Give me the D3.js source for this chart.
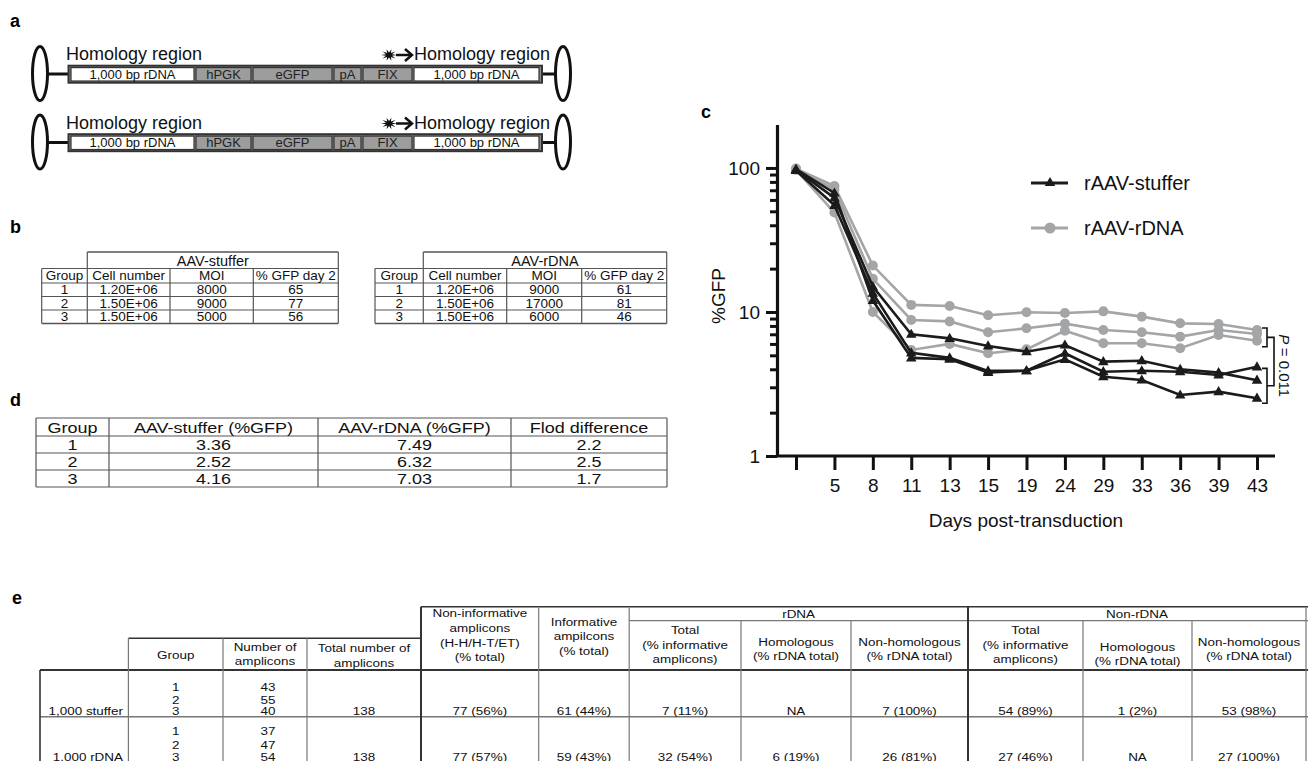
<!DOCTYPE html>
<head>
    <meta charset="utf-8">
    <script src="https://d3js.org/d3.v7.min.js"></script>
    <style>
        body { margin: 0; background: #fff; }
        svg { font-family: "Liberation Sans", Arial, sans-serif; }
    </style>
</head>

<body>
    <svg width="1308" height="761"></svg>

    <script>
        // ---------- data ----------
        // panel c: %GFP over days post-transduction (first tick unlabeled)
        const days = ["2", "5", "8", "11", "13", "15", "19", "24", "29", "33", "36", "39", "43"]
        const dayLabels = ["", "5", "8", "11", "13", "15", "19", "24", "29", "33", "36", "39", "43"]
        const stuffer1 = [97, 62, 15, 7.0, 6.56, 5.81, 5.3, 5.9, 4.52, 4.59, 4.0, 3.79, 3.36]
        const stuffer2 = [96, 55, 13.5, 5.2, 4.8, 3.9, 3.91, 5.17, 3.85, 3.91, 3.85, 3.65, 4.16]
        const stuffer3 = [98, 67, 12, 4.8, 4.7, 3.8, 3.91, 4.69, 3.55, 3.37, 2.65, 2.8, 2.52]
        const rdna1 = [99, 75, 21, 11.2, 11.0, 9.5, 9.95, 9.84, 10.1, 9.28, 8.34, 8.26, 7.49]
        const rdna2 = [98, 71, 17, 8.8, 8.6, 7.23, 7.7, 8.3, 7.5, 7.23, 6.74, 7.5, 7.03]
        const rdna3 = [97, 49, 10, 5.45, 6.0, 5.17, 5.5, 7.42, 6.06, 6.06, 5.6, 6.92, 6.32]
        const yTicks = [1, 10, 100]
        const yMinorTicks = [2, 3, 4, 5, 6, 7, 8, 9, 20, 30, 40, 50, 60, 70, 80, 90]
        const legendNames = ["rAAV-stuffer", "rAAV-rDNA"]
        const pText = "= 0.011"

        // panel a: construct
        const segNames = ["1,000 bp rDNA", "hPGK", "eGFP", "pA", "FIX", "1,000 bp rDNA"]
        const segGray = [false, true, true, true, true, false]

        // panel b
        const bHeadL = "AAV-stuffer", bHeadR = "AAV-rDNA"
        const bCols = ["Group", "Cell number", "MOI", "% GFP day 2"]
        const bStuffer = [["1", "1.20E+06", "8000", "65"], ["2", "1.50E+06", "9000", "77"], ["3", "1.50E+06", "5000", "56"]]
        const bRdna = [["1", "1.20E+06", "9000", "61"], ["2", "1.50E+06", "17000", "81"], ["3", "1.50E+06", "6000", "46"]]

        // panel d
        const dCols = ["Group", "AAV-stuffer (%GFP)", "AAV-rDNA (%GFP)", "Flod difference"]
        const dRows = [["1", "3.36", "7.49", "2.2"], ["2", "2.52", "6.32", "2.5"], ["3", "4.16", "7.03", "1.7"]]

        // panel e
        const eHead = [["Group"], ["Number of", "amplicons"], ["Total number of", "amplicons"],
            ["Non-informative", "amplicons", "(H-H/H-T/ET)", "(% total)"], ["Informative", "ampilcons", "(% total)"],
            ["Total", "(% informative", "amplicons)"], ["Homologous", "(% rDNA total)"], ["Non-homologous", "(% rDNA total)"],
            ["Total", "(% informative", "amplicons)"], ["Homologous", "(% rDNA total)"], ["Non-homologous", "(% rDNA total)"]]
        const eGroupHead = ["rDNA", "Non-rDNA"]
        const eRowNames = ["1,000 stuffer", "1,000 rDNA"]
        const eGroups = ["1", "2", "3"]
        const eAmplicons = [["43", "55", "40"], ["37", "47", "54"]]
        const eValues = [
            ["138", "77 (56%)", "61 (44%)", "7 (11%)", "NA", "7 (100%)", "54 (89%)", "1 (2%)", "53 (98%)"],
            ["138", "77 (57%)", "59 (43%)", "32 (54%)", "6 (19%)", "26 (81%)", "27 (46%)", "NA", "27 (100%)"]]

        // ---------- drawing ----------
        const svg = d3.select("svg")
        svg.append("rect").attr("width", 1308).attr("height", 761).attr("fill", "#fff")
        const BLACK = "#1b1b1b", GRAY = "#a4a5a7"

        // sx: horizontal stretch (panels d and e are wider set than the rest)
        function txt(g, x, y, s, size, anchor = "middle", fill = "#111", sx = 1) {
            return g.append("text").attr("transform", `translate(${x},${y}) scale(${sx},1)`).attr("dy", "0.35em")
                .attr("text-anchor", anchor).attr("font-size", size).attr("fill", fill).text(s)
        }
        function line(g, x1, y1, x2, y2, w = 1, c = "#555") {
            g.append("line").attr("x1", x1).attr("y1", y1).attr("x2", x2).attr("y2", y2)
                .attr("stroke", c).attr("stroke-width", w)
        }

        // panel letters
        const letters = [["a", 10, 27], ["b", 10, 233], ["c", 701, 118], ["d", 10, 406], ["e", 12, 604]]
        letters.forEach(l => svg.append("text").attr("x", l[1]).attr("y", l[2]).attr("font-size", 18)
            .attr("font-weight", "bold").text(l[0]))

        // ---- panel a ----
        const segEdges = [70, 195, 252, 333, 362, 413, 540]
        const rowOffsets = [0, 68.5]
        rowOffsets.forEach(off => {
            const g = svg.append("g").attr("transform", `translate(0,${off})`)
            txt(g, 66, 54, "Homology region", 18, "start")
            txt(g, 414, 54, "Homology region", 18, "start")
            // burst + arrow
            const pts = d3.range(20).map(i => {
                const a = i * Math.PI / 10, r = i % 2 ? 3.2 : 8
                return [389 + r * Math.cos(a), 55 + r * Math.sin(a) * 0.75]
            })
            g.append("polygon").attr("points", pts.map(p => p.join(",")).join(" ")).attr("fill", "#111")
            line(g, 396, 55, 411, 55, 2.5, "#111")
            g.append("path").attr("d", "M405,49L412,55L405,61").attr("fill", "none")
                .attr("stroke", "#111").attr("stroke-width", 2.5)
            // loops
            ;[[40, 48, 68.5], [563, 555, 542]].forEach(([cx, a, b]) => {
                g.append("ellipse").attr("cx", cx).attr("cy", 73.5).attr("rx", 7.5).attr("ry", 27)
                    .attr("fill", "none").attr("stroke", "#111").attr("stroke-width", 3)
                line(g, a, 74, b, 74, 3, "#111")
            })
            g.append("rect").attr("x", 68.5).attr("y", 65.7).attr("width", 473.5).attr("height", 17)
                .attr("fill", "#8a8a8a").attr("stroke", "#333").attr("stroke-width", 2)
            segNames.forEach((s, i) => {
                const x0 = segEdges[i], x1 = segEdges[i + 1]
                g.append("rect").attr("x", x0 + 1).attr("y", 67.6).attr("width", x1 - x0 - 2).attr("height", 13.4)
                    .attr("fill", segGray[i] ? "#9d9d9d" : "#fff").attr("stroke", "#333").attr("stroke-width", 1.2)
                txt(g, (x0 + x1) / 2, 74.3, s, 13, "middle", segGray[i] ? "#222" : "#111")
            })
        })

        // ---- panel b ----
        function tableB(x, head, rows) {
            const g = svg.append("g")
            const ys = [252, 268.5, 283, 296.5, 310, 323.5]
            line(g, x[1], ys[0], x[4], ys[0], 1.3)
            for (let r = 1; r < ys.length; r++) line(g, x[0], ys[r], x[4], ys[r], r === ys.length - 1 ? 1.3 : 1)
            x.forEach((xx, i) => line(g, xx, (i === 0 || i === 2 || i === 3) ? ys[1] : ys[0], xx, ys[5], 1.2))
            txt(g, (x[1] + x[4]) / 2, (ys[0] + ys[1]) / 2 + 0.5, head, 14.5)
            bCols.forEach((c, i) => txt(g, (x[i] + x[i + 1]) / 2, (ys[1] + ys[2]) / 2, c, 13.5))
            rows.forEach((row, r) => row.forEach((v, i) =>
                txt(g, (x[i] + x[i + 1]) / 2, (ys[r + 2] + ys[r + 3]) / 2, v, 13.5)))
        }
        tableB([41.7, 87.3, 170, 253.3, 338.3], bHeadL, bStuffer)
        tableB([375, 423.3, 506.7, 581.7, 666.7], bHeadR, bRdna)

        // ---- panel d ----
        {
            const g = svg.append("g")
            const xs = [36, 109, 318, 511, 667], ys = [418, 436, 453, 470, 487]
            ys.forEach(yy => line(g, xs[0], yy, xs[4], yy, 1.2))
            xs.forEach(xx => line(g, xx, ys[0], xx, ys[4], 1.2))
            dCols.forEach((c, i) => txt(g, (xs[i] + xs[i + 1]) / 2, (ys[0] + ys[1]) / 2 + 0.5, c, 15.5, "middle", "#111", 1.16))
            dRows.forEach((row, r) => row.forEach((v, i) =>
                txt(g, (xs[i] + xs[i + 1]) / 2, (ys[r + 1] + ys[r + 2]) / 2 + 0.5, v, 15.5, "middle", "#111", 1.16)))
        }

        // ---- panel c ----
        {
            const g = svg.append("g")
            const x = d3.scalePoint().domain(days).range([796, 1257])
            const y = d3.scaleLog().domain([1, 200]).range([456, 124.6])
            const ax = 777

            const yMinor = g.append("g").attr("transform", `translate(${ax},0)`)
                .call(d3.axisLeft(y).tickValues(yMinorTicks).tickSize(7).tickFormat(""))
            yMinor.select(".domain").remove()
            const yMajor = g.append("g").attr("transform", `translate(${ax},0)`)
                .call(d3.axisLeft(y).tickValues(yTicks).tickSize(11).tickSizeOuter(0).tickPadding(6).tickFormat(d3.format("d")))
            const xAxis = g.append("g").attr("transform", `translate(0,${y(1)})`)
                .call(d3.axisBottom(x).tickSize(14).tickPadding(9).tickFormat((d, i) => dayLabels[i]))
            xAxis.select(".domain").remove()
            line(g, ax, y(1), 1275, y(1), 3, "#111")
            g.selectAll(".tick line").attr("stroke", "#111").attr("stroke-width", 3)
            g.selectAll(".domain").attr("stroke", "#111").attr("stroke-width", 3.2)
            g.selectAll(".tick text").attr("font-size", 19).attr("fill", "#111")
                .attr("font-family", "'Liberation Sans', Arial, sans-serif")

            g.append("text").attr("transform", "translate(725,296) rotate(-90)").attr("text-anchor", "middle")
                .attr("font-size", 19).attr("fill", "#111").text("%GFP")
            g.append("text").attr("x", 1026).attr("y", 527).attr("text-anchor", "middle")
                .attr("font-size", 19).attr("fill", "#111").text("Days post-transduction")

            const ln = d3.line().x((d, i) => x(days[i])).y(d => y(d))
            const tri = d3.symbol(d3.symbolTriangle, 48)
            const rdna = [rdna1, rdna2, rdna3], stuffer = [stuffer1, stuffer2, stuffer3]
            rdna.forEach(s => {
                g.append("path").attr("d", ln(s)).attr("fill", "none").attr("stroke", GRAY).attr("stroke-width", 2.6)
                g.selectAll(null).data(s).join("circle").attr("cx", (d, i) => x(days[i])).attr("cy", d => y(d))
                    .attr("r", 5).attr("fill", GRAY)
            })
            stuffer.forEach(s => {
                g.append("path").attr("d", ln(s)).attr("fill", "none").attr("stroke", BLACK).attr("stroke-width", 2.6)
                g.selectAll(null).data(s).join("path").attr("d", tri)
                    .attr("transform", (d, i) => `translate(${x(days[i])},${y(d) + 0.5})`).attr("fill", BLACK)
            })

            // legend
            ;[[183, BLACK, "tri"], [228, GRAY, "dot"]].forEach(([ly, c, m], i) => {
                line(g, 1031, ly, 1068, ly, 3.2, c)
                if (m === "tri") g.append("path").attr("d", tri).attr("transform", `translate(1050,${ly})`).attr("fill", c)
                else g.append("circle").attr("cx", 1050).attr("cy", ly).attr("r", 5.5).attr("fill", c)
                txt(g, 1084, ly, legendNames[i], 20, "start")
            })

            // significance bracket
            const last = days.length - 1
            const gTop = y(d3.max(rdna, s => s[last])) - 2, gBot = y(d3.min(rdna, s => s[last])) + 6
            const bTop = y(d3.max(stuffer, s => s[last])) + 1.5, bBot = y(d3.min(stuffer, s => s[last])) + 5
            const bx = x(days[last]) + 10
            const br = d3.path()
            br.moveTo(bx - 5, gTop); br.lineTo(bx, gTop); br.lineTo(bx, gBot); br.lineTo(bx - 5, gBot)
            br.moveTo(bx - 5, bTop); br.lineTo(bx, bTop); br.lineTo(bx, bBot); br.lineTo(bx - 5, bBot)
            br.moveTo(bx, (gTop + gBot) / 2); br.lineTo(bx + 7, (gTop + gBot) / 2)
            br.lineTo(bx + 7, (bTop + bBot) / 2); br.lineTo(bx, (bTop + bBot) / 2)
            g.append("path").attr("d", br.toString()).attr("fill", "none").attr("stroke", "#111").attr("stroke-width", 1.6)
            const pt = g.append("text").attr("transform", `translate(${bx + 12},${(gTop + bBot) / 2}) rotate(90)`)
                .attr("text-anchor", "middle").attr("font-size", 15).attr("fill", "#111")
            pt.append("tspan").attr("font-style", "italic").text("P ")
            pt.append("tspan").text(pText)
        }

        // ---- panel e ----
        {
            const g = svg.append("g")
            const xs = [40, 128.4, 223, 307, 421, 538.7, 629.2, 741, 851, 968, 1083, 1192, 1306]
            const yTop = 606.7, yGrp = 620.7, yShort = 638.3, yHead = 670, yRow = 716.7, yEnd = 770
            const C = "#777", D = "#333"
            line(g, xs[4], yTop, 1308, yTop, 1.6, D)
            line(g, xs[6], yGrp, 1308, yGrp, 1.2, C)
            line(g, xs[1], yShort, xs[4], yShort, 1.6, D)
            line(g, xs[0], yHead, 1308, yHead, 2, D)
            line(g, xs[0], yRow, 1308, yRow, 1.6, C)
            line(g, xs[0], yHead, xs[0], yEnd, 1.6, D)
            ;[1, 2, 3].forEach(i => line(g, xs[i], yShort, xs[i], yEnd, 1.2, C))
            line(g, xs[4], yTop, xs[4], yEnd, 2, D)
            line(g, xs[5], yTop, xs[5], yEnd, 1.2, C)
            line(g, xs[6], yTop, xs[6], yEnd, 1.2, C)
            line(g, xs[9], yTop, xs[9], yEnd, 2, D)
            ;[7, 8, 10, 11].forEach(i => line(g, xs[i], yGrp, xs[i], yEnd, 1.2, C))
            line(g, xs[12], yTop, xs[12], yEnd, 1.2, C)

            const fs = 11.5, sx = 1.17
            txt(g, (xs[6] + xs[9]) / 2, 614, eGroupHead[0], fs, "middle", "#111", sx)
            txt(g, (xs[9] + xs[12]) / 2, 614, eGroupHead[1], fs, "middle", "#111", sx)
            const headStart = [655, 646.7, 648.3, 613.3, 621.7, 630, 641.7, 641.7, 630, 646.7, 641.7]
            eHead.forEach((lines, i) => lines.forEach((s, k) =>
                txt(g, (xs[i + 1] + xs[i + 2]) / 2, headStart[i] + k * 14.6, s, fs, "middle", "#111", sx)))

            const rowLines = [[686.5, 700, 711], [731, 744.5, 756.5]]
            eRowNames.forEach((nm, r) => {
                const L = rowLines[r]
                txt(g, 123, L[2], nm, fs, "end", "#111", sx)
                eGroups.forEach((s, k) => txt(g, (xs[1] + xs[2]) / 2, L[k], s, fs, "middle", "#111", sx))
                eAmplicons[r].forEach((s, k) => txt(g, (xs[2] + xs[3]) / 2 + 3, L[k], s, fs, "middle", "#111", sx))
                eValues[r].forEach((s, i) => txt(g, (xs[i + 3] + xs[i + 4]) / 2, L[2], s, fs, "middle", "#111", sx))
            })
        }
    </script>
</body>
